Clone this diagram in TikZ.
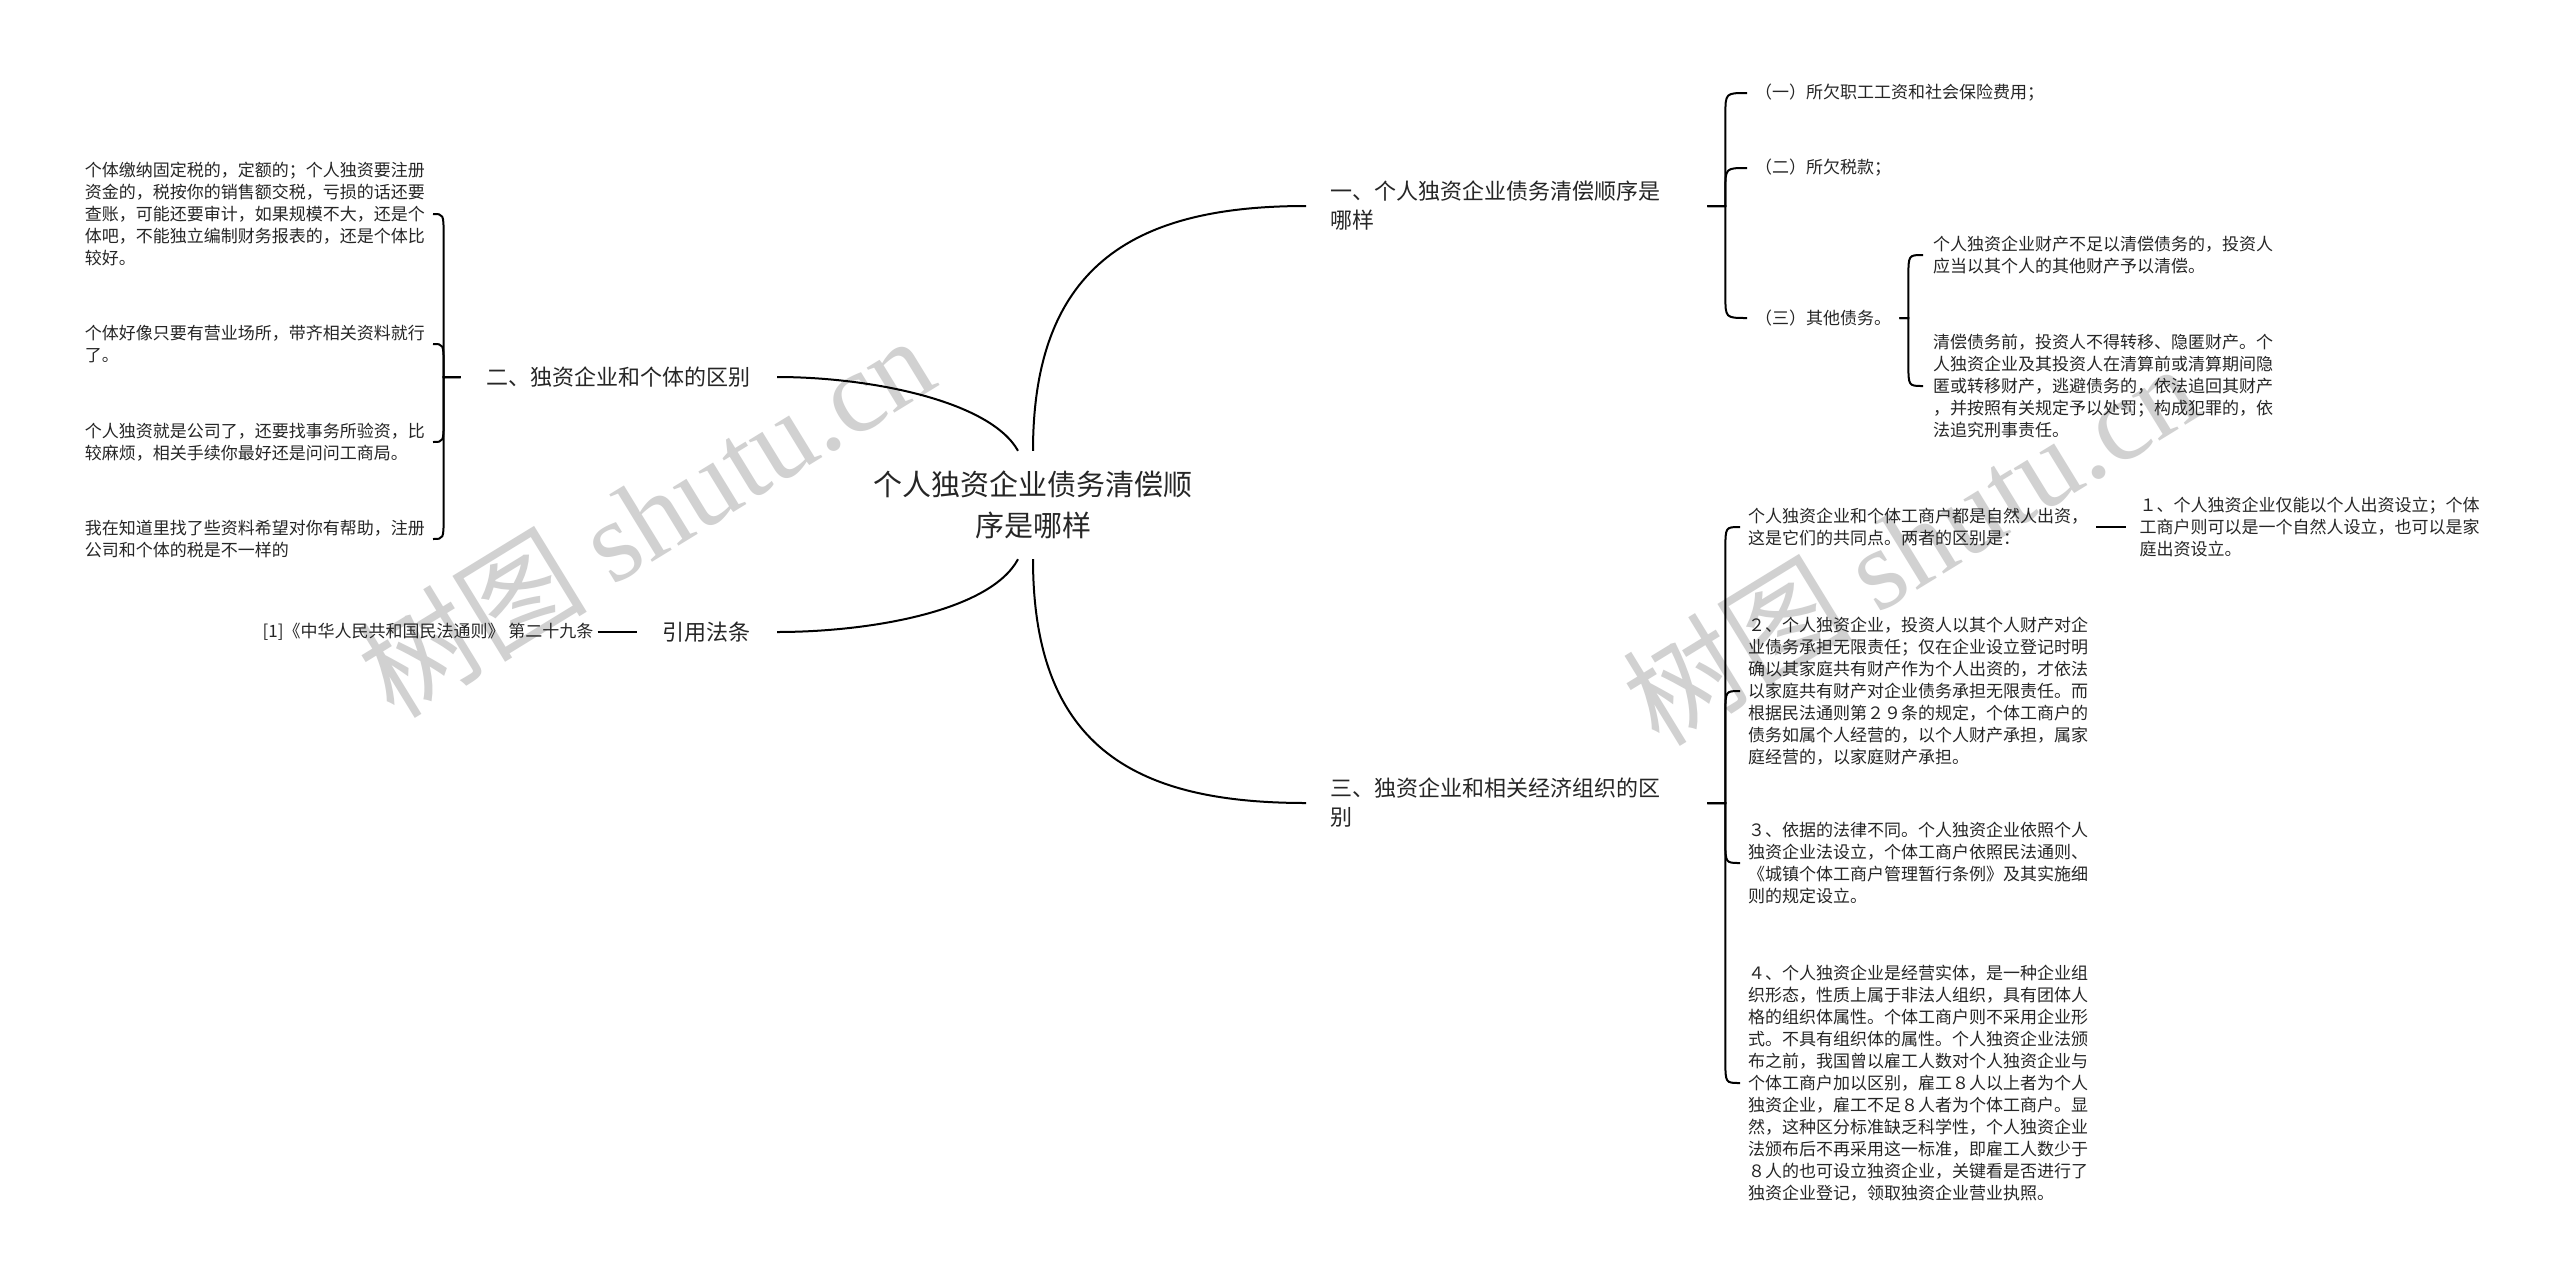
\documentclass[tikz,border=0pt]{standalone}
\usepackage{fontspec}
\newfontfamily\cjk{Noto Sans CJK SC}
\newfontfamily\wmserif{Liberation Serif}
\usepackage{tikz}
\usetikzlibrary{positioning}
\usetikzlibrary{calc}

\begin{document}
\begin{tikzpicture}[x=1pt, y=-1pt,
    link/.style={draw=black, line width=2pt},
    rootnode/.style={font=\cjk\fontsize{29}{41}\selectfont, align=center, inner ysep=20pt, text=black!85},
    branch/.style={font=\cjk\fontsize{22}{29}\selectfont, align=left, inner xsep=26pt, text=black!85},
    leaf/.style={font=\cjk\fontsize{17}{22}\selectfont, align=left, inner xsep=8pt, inner ysep=2pt, text=black!85},
    watermark/.style={text=black!18, inner sep=0pt, font=\fontsize{115}{115}\selectfont}]

    \path[use as bounding box, fill=white] (0,0) rectangle (2560,1283);

    % watermarks
    \node[watermark, rotate=31.5] (wm1) at (645,515) {\cjk 树图 \wmserif shutu.cn};
    \node[watermark, rotate=31.5] (wm2) at (1910,543) {\cjk 树图 \wmserif shutu.cn};

    % centre and main branches
    \node[rootnode] (root) at (1033,505) {个人独资企业债务清偿顺\\序是哪样};

    \node[branch, anchor=west, text width=353pt, inner xsep=24pt] (b1) at (1306,206) {一、个人独资企业债务清偿顺序是\\哪样};
    \node[branch, anchor=west, text width=353pt, inner xsep=24pt] (b3) at (1306,803) {三、独资企业和相关经济组织的区\\别};
    \node[branch, anchor=east] (b2) at (777,377) {二、独资企业和个体的区别};
    \node[branch, anchor=east] (b4) at (777,632) {引用法条};

    % left leaves
    \node[leaf, anchor=east] (l1) at (433,214) {个体缴纳固定税的，定额的；个人独资要注册\\资金的，税按你的销售额交税，亏损的话还要\\查账，可能还要审计，如果规模不大，还是个\\体吧，不能独立编制财务报表的，还是个体比\\较好。};
    \node[leaf, anchor=east] (l2) at (433,344) {个体好像只要有营业场所，带齐相关资料就行\\了。};
    \node[leaf, anchor=east] (l3) at (433,442) {个人独资就是公司了，还要找事务所验资，比\\较麻烦，相关手续你最好还是问问工商局。};
    \node[leaf, anchor=east] (l4) at (433,539) {我在知道里找了些资料希望对你有帮助，注册\\公司和个体的税是不一样的};
    \node[leaf, left=39pt of b4, inner xsep=4pt] (law) {[1]《中华人民共和国民法通则》 第二十九条};

    % right leaves, first branch
    \node[leaf, anchor=west] (d1) at (1747,93) {（一）所欠职工工资和社会保险费用；};
    \node[leaf, anchor=west] (d2) at (1747,168) {（二）所欠税款；};
    \node[leaf, anchor=west] (d3) at (1747,318) {（三）其他债务。};
    \node[leaf, anchor=west, inner xsep=10pt] (d31) at (1923,255) {个人独资企业财产不足以清偿债务的，投资人\\应当以其个人的其他财产予以清偿。};
    \node[leaf, anchor=west, inner xsep=10pt] (d32) at (1923,386) {清偿债务前，投资人不得转移、隐匿财产。个\\人独资企业及其投资人在清算前或清算期间隐\\匿或转移财产，逃避债务的，依法追回其财产\\，并按照有关规定予以处罚；构成犯罪的，依\\法追究刑事责任。};

    % right leaves, third branch
    \node[leaf, anchor=west] (q1) at (1740,527) {个人独资企业和个体工商户都是自然人出资，\\这是它们的共同点。两者的区别是：};
    \node[leaf, right=30pt of q1, inner xsep=13pt] (q11) {１、个人独资企业仅能以个人出资设立；个体\\工商户则可以是一个自然人设立，也可以是家\\庭出资设立。};
    \node[leaf, anchor=west] (q2) at (1740,691) {２、个人独资企业，投资人以其个人财产对企\\业债务承担无限责任；仅在企业设立登记时明\\确以其家庭共有财产作为个人出资的，才依法\\以家庭共有财产对企业债务承担无限责任。而\\根据民法通则第２９条的规定，个体工商户的\\债务如属个人经营的，以个人财产承担，属家\\庭经营的，以家庭财产承担。};
    \node[leaf, anchor=west] (q3) at (1740,863) {３、依据的法律不同。个人独资企业依照个人\\独资企业法设立，个体工商户依照民法通则、\\《城镇个体工商户管理暂行条例》及其实施细\\则的规定设立。};
    \node[leaf, anchor=west] (q4) at (1740,1083) {４、个人独资企业是经营实体，是一种企业组\\织形态，性质上属于非法人组织，具有团体人\\格的组织体属性。个体工商户则不采用企业形\\式。不具有组织体的属性。个人独资企业法颁\\布之前，我国曾以雇工人数对个人独资企业与\\个体工商户加以区别，雇工８人以上者为个人\\独资企业，雇工不足８人者为个体工商户。显\\然，这种区分标准缺乏科学性，个人独资企业\\法颁布后不再采用这一标准，即雇工人数少于\\８人的也可设立独资企业，关键看是否进行了\\独资企业登记，领取独资企业营业执照。};

    % brace stems
    \coordinate[left=17pt of b2] (t2);
    \coordinate[right=18pt of b1] (t1);
    \coordinate[right=9pt of d3] (t13);
    \coordinate[right=18pt of b3] (t3);

    % centre to branches
    \draw[link] (root.north) .. controls +(0,-190) and +(-166,0) .. (b1.west);
    \draw[link] (root.south) .. controls +(0,192) and +(-166,0) .. (b3.west);
    \draw[link] ([xshift=-15pt]root.north) .. controls +(-28,-50) and +(93,0) .. (b2.east);
    \draw[link] ([xshift=-15pt]root.south) .. controls +(-28,52) and +(93,0) .. (b4.east);

    % branch to leaves
    \foreach \c/\s in {l1/1, l2/1, l3/-1, l4/-1}
        \draw[link] (b2.west) -- (t2) -- ($(t2 |- \c.east)+(0,22*\s)$) .. controls (t2 |- \c.east) .. (\c.east);
    \draw[link] (law) -- (b4);

    \foreach \c/\s in {d1/1, d2/1, d3/-1}
        \draw[link] (b1.east) -- (t1) -- ($(t1 |- \c.west)+(0,22*\s)$) .. controls (t1 |- \c.west) .. (\c.west);
    \foreach \c/\s in {d31/1, d32/-1}
        \draw[link] (d3.east) -- (t13) -- ($(t13 |- \c.west)+(0,22*\s)$) .. controls (t13 |- \c.west) .. (\c.west);

    \foreach \c/\s in {q1/1, q2/1, q3/-1, q4/-1}
        \draw[link] (b3.east) -- (t3) -- ($(t3 |- \c.west)+(0,22*\s)$) .. controls (t3 |- \c.west) .. (\c.west);
    \draw[link] (q1) -- (q11);

\end{tikzpicture}
\end{document}
